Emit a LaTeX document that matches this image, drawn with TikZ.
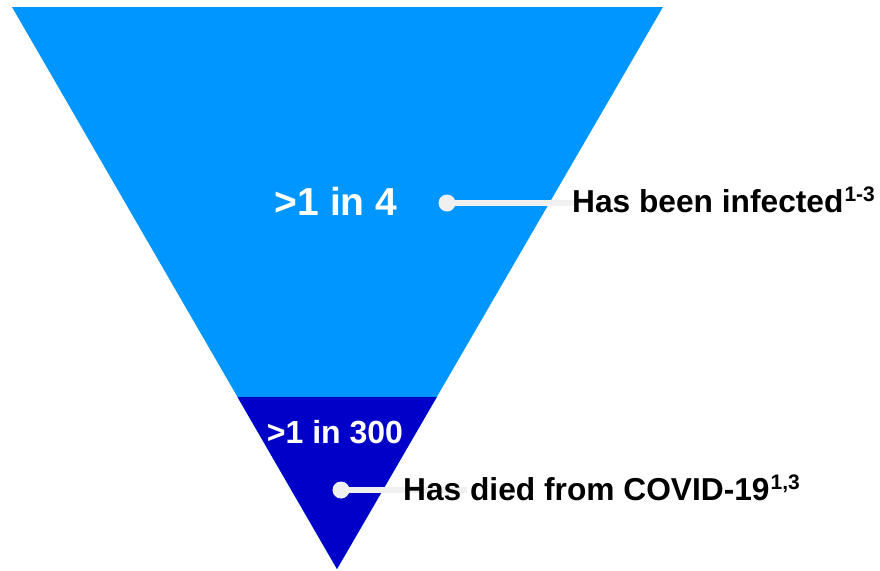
\documentclass[tikz,border=0pt]{standalone}
\usepackage{fontspec}
\setmainfont{Liberation Sans}
\definecolor{lightblu}{RGB}{0,150,255}
\definecolor{darkblu}{RGB}{0,0,200}
\definecolor{callgray}{RGB}{240,240,240}
\tikzset{
  bigval/.style={text=white, font=\bfseries\fontsize{39}{39}\selectfont, inner sep=0pt, anchor=base},
  smallval/.style={text=white, font=\bfseries\fontsize{32}{32}\selectfont, inner sep=0pt, anchor=base},
  lbl/.style={text=black, font=\bfseries\fontsize{31.7}{32}\selectfont, inner sep=0pt, anchor=base west},
  callline/.style={draw=callgray, line width=6pt},
  calldot/.style={circle, fill=callgray, minimum size=17pt, inner sep=0pt}
}
\newcommand{\supx}[1]{\kern1pt\raisebox{10.5pt}{\fontsize{21}{21}\selectfont #1}}
\begin{document}
\begin{tikzpicture}[x=1pt,y=-1pt]
\useasboundingbox (0,0) rectangle (880,570);
\fill[lightblu] (12,7) -- (663,7) -- (337,569) -- cycle;
\fill[darkblu] (237.5,397) -- (436.8,397) -- (337,569) -- cycle;
\node[bigval] (v1) at (336,215) {>1 in 4};
\node[smallval] (v2) at (335,443) {>1 in 300};
\coordinate (c1) at (447,203);
\coordinate (c2) at (341,490);
\coordinate (e1) at (575,203);
\coordinate (e2) at (467,490);
\draw[callline] (c1) -- (e1);
\draw[callline] (c2) -- (e2);
\node[calldot] (d1) at (c1) {};
\node[calldot] (d2) at (c2) {};
\node[lbl] (l1) at (572,212) {Has been infected\supx{1-3}};
\node[lbl] (l2) at (403,500) {Has died from COVID-19\supx{1,3}};
\end{tikzpicture}
\end{document}
